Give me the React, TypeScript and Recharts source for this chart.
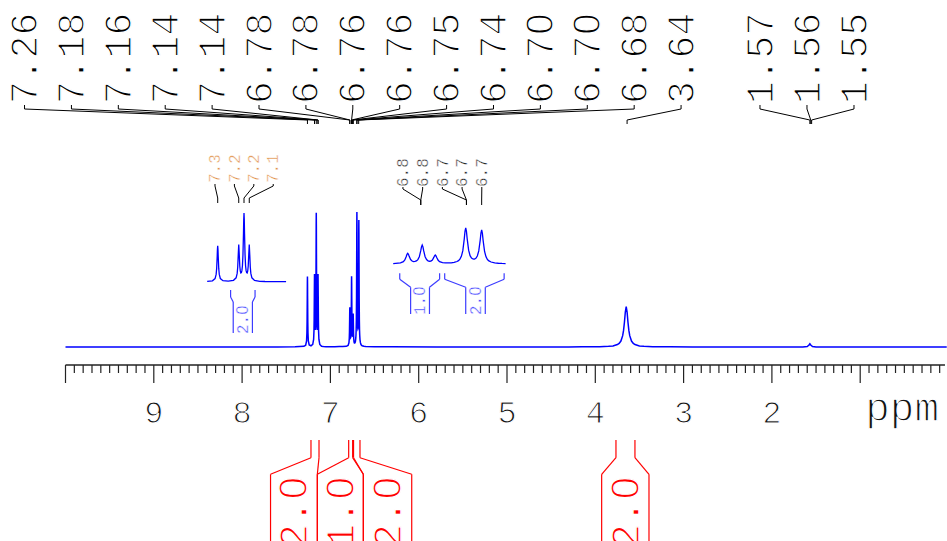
import { ComposedChart, Line, XAxis, YAxis, ReferenceLine, ReferenceDot } from "recharts";

// spectrum as [ppm, intensity]; tallest line (7.16) is about 100
const baselinePoints: [number, number][] = [
  [10.0, 0], [9.2, 0.05], [8.4, 0], [7.6, 0.05], [7.4, 0.15],
  [6.95, 0.2], [6.9, 0.3], [6.86, 0.4],
  [6.3, 0.1], [5.8, 0], [5.0, 0.05], [4.5, 0], [4.3, 0.05],
  [2.9, 0], [2.4, 0.05], [1.9, 0], [1.75, 0.05],
  [1.3, 0], [0.8, 0.05], [0.3, 0], [0.02, 0],
];
const arylRegion: [number, number][] = [
  [7.3, 0.5], [7.28, 1.3], [7.27, 4.5], [7.266, 10.6], [7.264, 18.9], [7.262, 36.2], [7.261, 47], [7.26, 52.2],
  [7.259, 47], [7.258, 36.2], [7.256, 18.9], [7.254, 10.6], [7.25, 4.6], [7.24, 1.5], [7.22, 0.9], [7.2, 2.0],
  [7.19, 5.6], [7.186, 12.0], [7.184, 20.5], [7.182, 38], [7.18, 54], [7.178, 39], [7.176, 22.4], [7.174, 15.2],
  [7.172, 12.7], [7.17, 13.1], [7.168, 16.0], [7.166, 23], [7.164, 38.7], [7.162, 70], [7.161, 90], [7.16, 99.5],
  [7.159, 90], [7.158, 70], [7.156, 38.7], [7.154, 23], [7.152, 16.0], [7.15, 13.1], [7.148, 12.7], [7.146, 15.2],
  [7.144, 22.4], [7.142, 39], [7.14, 54], [7.138, 38], [7.136, 20.5], [7.134, 12.0], [7.13, 5.6], [7.12, 1.9],
  [7.1, 0.6], [7.08, 0.3], [7.05, 0.2], [7.0, 0.1],
];
const anisylRegion: [number, number][] = [
  [6.82, 0.5], [6.8, 1.1], [6.79, 3.1], [6.786, 6.6], [6.784, 11.2], [6.782, 20.6], [6.781, 26.5], [6.78, 29.5],
  [6.779, 26.8], [6.778, 21.1], [6.776, 12.2], [6.774, 8.2], [6.772, 6.8], [6.77, 7.0], [6.768, 8.5], [6.766, 12.0],
  [6.764, 20.0], [6.762, 36.8], [6.761, 47.3], [6.76, 52.4], [6.759, 47.4], [6.758, 36.8], [6.756, 20.0], [6.754, 12.1],
  [6.752, 8.8], [6.75, 7.6], [6.748, 8.1], [6.746, 11.0], [6.744, 18.1], [6.743, 22.6], [6.742, 24.8], [6.741, 22.4],
  [6.74, 17.8], [6.738, 10.1], [6.736, 6.3], [6.732, 3.6], [6.728, 2.9], [6.724, 2.9], [6.72, 3.3], [6.716, 4.4],
  [6.712, 6.9], [6.71, 9.3], [6.708, 13.4], [6.706, 21.0], [6.704, 36.9], [6.702, 69.5], [6.701, 90.0], [6.7, 100.0],
  [6.699, 90.3], [6.698, 70.1], [6.696, 38.1], [6.694, 23.0], [6.692, 16.4], [6.69, 13.8], [6.689, 13.5], [6.688, 13.7],
  [6.686, 15.9], [6.684, 22.0], [6.682, 36.0], [6.68, 66.1], [6.679, 85.0], [6.678, 94.0], [6.677, 84.6], [6.676, 65.4],
  [6.674, 34.6], [6.672, 19.7], [6.67, 12.4], [6.668, 8.6], [6.665, 5.5], [6.66, 3.2], [6.655, 2.1], [6.65, 1.5],
  [6.645, 1.2], [6.64, 0.9], [6.62, 0.5], [6.6, 0.3], [6.5, 0.2],
];
const methoxyRegion: [number, number][] = [
  [4.15, 0.1], [3.95, 0.2], [3.85, 0.5], [3.8, 0.8], [3.75, 1.8], [3.73, 2.7], [3.71, 4.4], [3.69, 8.4],
  [3.68, 12.3], [3.67, 18.3], [3.66, 25.9], [3.65, 30], [3.64, 25.9], [3.63, 18.3], [3.62, 12.3], [3.61, 8.4],
  [3.59, 4.4], [3.57, 2.7], [3.55, 1.8], [3.5, 0.8], [3.45, 0.5], [3.35, 0.2], [3.15, 0.1],
];
const waterRegion: [number, number][] = [
  [1.65, 0], [1.6, 0.4], [1.58, 1.5], [1.57, 2.4], [1.56, 1.5], [1.54, 0.4], [1.5, 0],
];

const peakLabels = ["7.26", "7.18", "7.16", "7.14", "7.14", "6.78", "6.78", "6.76", "6.76", "6.75", "6.74", "6.70", "6.70", "6.68", "3.64"];
const peakLabelsHigh = ["1.57", "1.56", "1.55"];
const axisLabels = [9, 8, 7, 6, 5, 4, 3, 2];

const inset1Labels = ["7.3", "7.2", "7.2", "7.1"];
const inset1Peaks = [7.26, 7.18, 7.16, 7.14];
const inset2Labels = ["6.8", "6.8", "6.7", "6.7", "6.7"];
const inset2Peaks = [6.762, 6.762, 6.699, 6.699, 6.678];

const integralLabels = ["2.0", "1.0", "2.0", "2.0"];
const integralTop: [number, number][] = [[7.22, 7.129], [6.793, 6.748], [6.738, 6.665], [3.766, 3.551]];
const integralBottom: [number, number][] = [[7.678, 7.148], [7.148, 6.627], [6.627, 6.079], [3.928, 3.392]];

const inset1IntLabels = ["2.0"];
const inset1IntTop: [number, number][] = [[7.211, 7.118]];
const inset1IntBottom: [number, number][] = [[7.201, 7.128]];
const inset2IntLabels = ["1.0", "2.0"];
const inset2IntTop: [number, number][] = [[6.791, 6.736], [6.729, 6.647]];
const inset2IntBottom: [number, number][] = [[6.776, 6.75], [6.7, 6.673]];

const spectrum = [...baselinePoints, ...arylRegion, ...anisylRegion, ...methoxyRegion, ...waterRegion]
  .sort((a, b) => b[0] - a[0])
  .map(([ppm, v]) => ({ ppm, v }));
const inset1Data = spectrum.filter((d) => d.ppm <= 7.3 && d.ppm >= 7.0);
const inset2Data = spectrum.filter((d) => d.ppm <= 6.8 && d.ppm >= 6.645);
const axisTicks = Array.from({ length: 100 }, (_, i) => (100 - i) / 10);

const FONT = "'Liberation Mono', 'DejaVu Sans Mono', monospace";
const BLUE = "#0000ff";
const INT_BLUE = "#3c3cff";

// a white outline painted over the glyphs thins the mono font towards the reference's light Courier look
const thin = (w: number) => ({ stroke: "#fff", strokeWidth: w, paintOrder: "fill" as const });

// Liberation Mono has a dotted zero; the reference's zero is a plain oval
const glyphs = (text: string) =>
  text.split("").map((c, i) =>
    c === "0" ? <tspan key={i} fontFamily="'Liberation Sans', sans-serif" dx="0.02em">0</tspan> : <tspan key={i}>{c}</tspan>
  );

function path(key: string, pts: [number, number][], xId: string, color: string, w = 1) {
  const out = [];
  for (let i = 0; i < pts.length - 1; i++) {
    out.push(
      <ReferenceLine
        key={`${key}-${i}`}
        xAxisId={xId}
        yAxisId="px"
        segment={[{ x: pts[i][0], y: pts[i][1] }, { x: pts[i + 1][0], y: pts[i + 1][1] }]}
        stroke={color}
        strokeWidth={w}
        ifOverflow="visible"
      />
    );
  }
  return out;
}

function vtext(key: string, x: number, y: number, xId: string, text: string, size: number, color: string, anchor = "start") {
  return (
    <ReferenceDot
      key={key}
      xAxisId={xId}
      yAxisId="px"
      x={x}
      y={y}
      r={0}
      ifOverflow="visible"
      shape={(p: any) => (
        <text
          x={p.cx}
          y={p.cy}
          dy="0.33em"
          transform={`rotate(-90 ${p.cx} ${p.cy})`}
          textAnchor={anchor}
          fontFamily={FONT}
          fontSize={size}
          fill={color}
          {...thin(size > 20 ? 1.3 : 0.45)}
        >
          {glyphs(text)}
        </text>
      )}
    />
  );
}

function brackets(key: string, tops: [number, number][], bottoms: [number, number][], labels: string[], xId: string,
  ys: [number, number, number, number], color: string, size: number, textY: number, anchor: string) {
  const out: any[] = [];
  tops.forEach((t, i) => {
    const b = bottoms[i];
    out.push(...path(`${key}l${i}`, [[t[0], ys[0]], [t[0], ys[1]], [b[0], ys[2]], [b[0], ys[3]]], xId, color, 1.2));
    out.push(...path(`${key}r${i}`, [[t[1], ys[0]], [t[1], ys[1]], [b[1], ys[2]], [b[1], ys[3]]], xId, color, 1.2));
    out.push(vtext(`${key}t${i}`, (b[0] + b[1]) / 2, textY, xId, labels[i], size, color, anchor));
  });
  return out;
}

const AxisTick = (props: any) => {
  const { x, y, payload } = props;
  const v = Math.round(payload.value * 10);
  const major = v % 10 === 0;
  const n = v / 10;
  return (
    <g>
      <line x1={x} x2={x} y1={y} y2={y + (major ? 18 : 8)} stroke="#222" strokeWidth={1.2} />
      {major && axisLabels.includes(n) && (
        <text x={x} y={y + 58} textAnchor="middle" fontFamily={FONT} fontSize={32} fill="#111" {...thin(1.1)}>{n}</text>
      )}
      {major && n === 1 && (
        <text x={x + 5} y={y + 56} textAnchor="start" fontFamily={FONT} fontSize={41} fill="#111" {...thin(1.3)}>ppm</text>
      )}
    </g>
  );
};

export default function App() {
  const topTrees: any[] = [];
  peakLabels.forEach((t, i) => {
    const lx = 10.464 - i * 0.5311;
    const px = parseFloat(t);
    topTrees.push(...path(`ta${i}`, [[lx, 105], [lx, 109], [px, 120], [px, 124]], "main", "#000"));
    topTrees.push(vtext(`la${i}`, lx, 104, "main", t, 38, "#000"));
  });
  peakLabelsHigh.forEach((t, i) => {
    const lx = 2.135 - i * 0.5323;
    const px = parseFloat(t);
    topTrees.push(...path(`tb${i}`, [[lx, 105], [lx, 109], [px, 120], [px, 124]], "main", "#000"));
    topTrees.push(vtext(`lb${i}`, lx, 104, "main", t, 38, "#000"));
  });
  inset1Labels.forEach((t, i) => {
    const lx = 7.2703 - i * 0.0738;
    topTrees.push(...path(`ti1${i}`, [[lx, 184], [lx, 186], [inset1Peaks[i], 198], [inset1Peaks[i], 203]], "inset1", "#000"));
    topTrees.push(vtext(`li1${i}`, lx, 183, "inset1", t, 16, "#e09048"));
  });
  inset2Labels.forEach((t, i) => {
    const lx = 6.7866 - i * 0.0272;
    topTrees.push(...path(`ti2${i}`, [[lx, 187], [lx, 189], [inset2Peaks[i], 200], [inset2Peaks[i], 205]], "inset2", "#000"));
    topTrees.push(vtext(`li2${i}`, lx, 187, "inset2", t, 16, "#222"));
  });

  return (
    <div style={{ position: "absolute", left: 0, top: 0, width: 947, height: 541, background: "#fff" }}>
      <ComposedChart width={947} height={541} margin={{ top: 0, right: 0, bottom: 0, left: 0 }}>
        <XAxis
          xAxisId="main"
          dataKey="ppm"
          type="number"
          domain={[0.017, 10.7418]}
          allowDataOverflow
          reversed
          height={176}
          ticks={axisTicks}
          interval={0}
          tick={<AxisTick />}
          tickLine={false}
          axisLine={false}
          tickSize={0}
          tickMargin={0}
        />
        <XAxis xAxisId="inset1" dataKey="ppm" type="number" domain={[4.48707, 8.08776]} allowDataOverflow reversed hide orientation="top" />
        <XAxis xAxisId="inset2" dataKey="ppm" type="number" domain={[6.03617, 7.34236]} allowDataOverflow reversed hide orientation="top" />
        <YAxis yAxisId="main" type="number" domain={[-13.33, 257.04]} hide />
        <YAxis yAxisId="inset1y" type="number" domain={[-120.72, 408.26]} hide />
        <YAxis yAxisId="inset2y" type="number" domain={[-278.7, 728.5]} hide />
        <YAxis yAxisId="px" type="number" domain={[0, 365]} allowDataOverflow reversed hide />

        <Line data={spectrum} xAxisId="main" yAxisId="main" dataKey="v" type="linear" stroke={BLUE} strokeWidth={1.5} dot={false} isAnimationActive={false} />
        <Line data={inset1Data} xAxisId="inset1" yAxisId="inset1y" dataKey="v" type="linear" stroke={BLUE} strokeWidth={1.3} dot={false} isAnimationActive={false} />
        <Line data={inset2Data} xAxisId="inset2" yAxisId="inset2y" dataKey="v" type="linear" stroke={BLUE} strokeWidth={1.3} dot={false} isAnimationActive={false} />

        {path("axis", [[10, 365], [0.04, 365]], "main", "#222", 1.3)}
        {topTrees}
        {brackets("red", integralTop, integralBottom, integralLabels, "main", [440, 457.7, 474.3, 545], "#ff0000", 40, 477, "end")}
        {brackets("b1", inset1IntTop, inset1IntBottom, inset1IntLabels, "inset1", [290, 297, 302, 333], INT_BLUE, 16, 334, "start")}
        {brackets("b2", inset2IntTop, inset2IntBottom, inset2IntLabels, "inset2", [273.3, 279.3, 287.3, 314], INT_BLUE, 16, 315, "start")}
      </ComposedChart>
    </div>
  );
}
